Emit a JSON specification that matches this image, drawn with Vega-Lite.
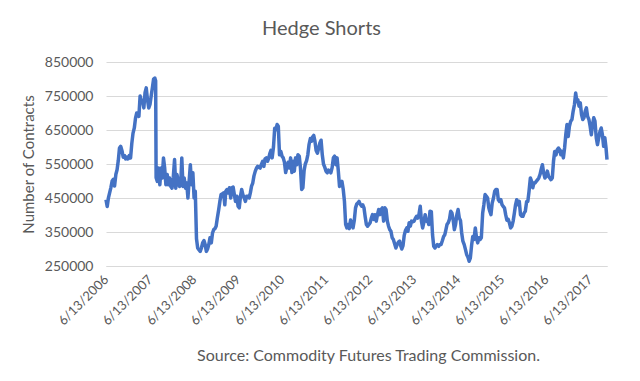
{
  "$schema": "https://vega.github.io/schema/vega-lite/v6.json",
  "width": 501,
  "height": 204,
  "autosize": "none",
  "padding": {"left": 106, "top": 62, "right": 33, "bottom": 115},
  "background": "white",
  "config": {
    "font": "Lato",
    "view": {"stroke": null},
    "axis": {"labelColor": "#595959", "titleColor": "#595959", "labelFont": "Lato", "titleFont": "Lato", "titleFontWeight": "normal"}
  },
  "title": {"text": "Hedge Shorts", "fontSize": 20, "font": "Lato", "fontWeight": "normal", "color": "#595959", "anchor": "middle", "dx": -35, "offset": 16},
  "data": {"values": [
    {"d":"2006-06-13","v":445000},{"d":"2006-06-23","v":425000},{"d":"2006-07-03","v":450000},{"d":"2006-07-13","v":465000},{"d":"2006-07-23","v":480000},{"d":"2006-08-03","v":500000},{"d":"2006-08-13","v":505000},{"d":"2006-08-23","v":485000},{"d":"2006-09-03","v":520000},{"d":"2006-09-13","v":533000},{"d":"2006-09-23","v":560000},{"d":"2006-10-03","v":597000},{"d":"2006-10-13","v":602000},{"d":"2006-10-23","v":590000},{"d":"2006-11-03","v":570000},{"d":"2006-11-13","v":575000},{"d":"2006-11-23","v":565000},{"d":"2006-12-03","v":570000},{"d":"2006-12-13","v":565000},{"d":"2006-12-23","v":575000},
    {"d":"2007-01-03","v":568000},{"d":"2007-01-13","v":610000},{"d":"2007-01-23","v":640000},{"d":"2007-02-03","v":656000},{"d":"2007-02-13","v":685000},{"d":"2007-02-23","v":700000},{"d":"2007-03-03","v":695000},{"d":"2007-03-13","v":690000},{"d":"2007-03-23","v":750000},{"d":"2007-04-03","v":735000},{"d":"2007-04-13","v":734000},{"d":"2007-04-23","v":715000},{"d":"2007-05-03","v":760000},{"d":"2007-05-13","v":774000},{"d":"2007-05-23","v":740000},{"d":"2007-06-03","v":715000},{"d":"2007-06-13","v":725000},{"d":"2007-06-23","v":750000},{"d":"2007-07-03","v":774000},{"d":"2007-07-13","v":800000},{"d":"2007-07-23","v":803000},{"d":"2007-07-30","v":795000},{"d":"2007-08-03","v":510000},{"d":"2007-08-13","v":499000},{"d":"2007-08-23","v":538000},{"d":"2007-09-03","v":489000},{"d":"2007-09-13","v":538000},{"d":"2007-09-23","v":509000},{"d":"2007-10-03","v":568000},{"d":"2007-10-13","v":538000},{"d":"2007-10-23","v":489000},{"d":"2007-11-03","v":519000},{"d":"2007-11-13","v":489000},{"d":"2007-11-23","v":509000},{"d":"2007-12-03","v":484000},{"d":"2007-12-13","v":479000},{"d":"2007-12-23","v":509000},
    {"d":"2008-01-03","v":563000},{"d":"2008-01-13","v":479000},{"d":"2008-01-23","v":519000},{"d":"2008-02-03","v":500000},{"d":"2008-02-13","v":484000},{"d":"2008-02-23","v":489000},{"d":"2008-03-03","v":568000},{"d":"2008-03-13","v":484000},{"d":"2008-03-23","v":509000},{"d":"2008-04-03","v":479000},{"d":"2008-04-13","v":494000},{"d":"2008-04-23","v":450000},{"d":"2008-05-03","v":500000},{"d":"2008-05-13","v":548000},{"d":"2008-05-23","v":489000},{"d":"2008-06-03","v":524000},{"d":"2008-06-13","v":450000},{"d":"2008-06-23","v":470000},{"d":"2008-07-03","v":330000},{"d":"2008-07-13","v":303000},{"d":"2008-07-23","v":298000},{"d":"2008-08-03","v":293000},{"d":"2008-08-13","v":303000},{"d":"2008-08-23","v":318000},{"d":"2008-09-03","v":325000},{"d":"2008-09-13","v":313000},{"d":"2008-09-23","v":293000},{"d":"2008-10-03","v":300000},{"d":"2008-10-13","v":313000},{"d":"2008-10-23","v":333000},{"d":"2008-11-03","v":318000},{"d":"2008-11-13","v":347000},{"d":"2008-11-23","v":357000},{"d":"2008-12-03","v":360000},{"d":"2008-12-13","v":367000},{"d":"2008-12-23","v":391000},
    {"d":"2009-01-03","v":415000},{"d":"2009-01-13","v":440000},{"d":"2009-01-23","v":460000},{"d":"2009-02-03","v":462000},{"d":"2009-02-13","v":465000},{"d":"2009-02-23","v":430000},{"d":"2009-03-03","v":470000},{"d":"2009-03-13","v":475000},{"d":"2009-03-23","v":465000},{"d":"2009-04-03","v":480000},{"d":"2009-04-13","v":450000},{"d":"2009-04-23","v":480000},{"d":"2009-05-03","v":482000},{"d":"2009-05-13","v":460000},{"d":"2009-05-23","v":440000},{"d":"2009-06-03","v":455000},{"d":"2009-06-13","v":426000},{"d":"2009-06-23","v":421000},{"d":"2009-07-03","v":455000},{"d":"2009-07-13","v":475000},{"d":"2009-07-23","v":460000},{"d":"2009-08-03","v":450000},{"d":"2009-08-13","v":440000},{"d":"2009-08-23","v":455000},{"d":"2009-09-03","v":455000},{"d":"2009-09-13","v":450000},{"d":"2009-09-23","v":465000},{"d":"2009-10-03","v":485000},{"d":"2009-10-13","v":494000},{"d":"2009-10-23","v":515000},{"d":"2009-11-03","v":529000},{"d":"2009-11-13","v":538000},{"d":"2009-11-23","v":543000},{"d":"2009-12-03","v":540000},{"d":"2009-12-13","v":538000},{"d":"2009-12-23","v":548000},
    {"d":"2010-01-03","v":558000},{"d":"2010-01-13","v":543000},{"d":"2010-01-23","v":565000},{"d":"2010-02-03","v":568000},{"d":"2010-02-13","v":558000},{"d":"2010-02-23","v":568000},{"d":"2010-03-03","v":580000},{"d":"2010-03-13","v":590000},{"d":"2010-03-23","v":568000},{"d":"2010-04-03","v":600000},{"d":"2010-04-13","v":655000},{"d":"2010-04-23","v":651000},{"d":"2010-05-03","v":666000},{"d":"2010-05-13","v":661000},{"d":"2010-05-23","v":577000},{"d":"2010-06-03","v":587000},{"d":"2010-06-13","v":573000},{"d":"2010-06-23","v":568000},{"d":"2010-07-03","v":555000},{"d":"2010-07-13","v":525000},{"d":"2010-07-23","v":540000},{"d":"2010-08-03","v":555000},{"d":"2010-08-13","v":538000},{"d":"2010-08-23","v":568000},{"d":"2010-09-03","v":525000},{"d":"2010-09-13","v":558000},{"d":"2010-09-23","v":529000},{"d":"2010-10-03","v":568000},{"d":"2010-10-13","v":548000},{"d":"2010-10-23","v":577000},{"d":"2010-11-03","v":573000},{"d":"2010-11-13","v":538000},{"d":"2010-11-23","v":475000},{"d":"2010-12-03","v":480000},{"d":"2010-12-13","v":530000},{"d":"2010-12-23","v":550000},
    {"d":"2011-01-03","v":560000},{"d":"2011-01-13","v":577000},{"d":"2011-01-23","v":607000},{"d":"2011-02-03","v":625000},{"d":"2011-02-13","v":617000},{"d":"2011-02-23","v":630000},{"d":"2011-03-03","v":634000},{"d":"2011-03-13","v":617000},{"d":"2011-03-23","v":590000},{"d":"2011-04-03","v":582000},{"d":"2011-04-13","v":597000},{"d":"2011-04-23","v":612000},{"d":"2011-05-03","v":620000},{"d":"2011-05-13","v":577000},{"d":"2011-05-23","v":550000},{"d":"2011-06-03","v":540000},{"d":"2011-06-13","v":529000},{"d":"2011-06-23","v":524000},{"d":"2011-07-03","v":532000},{"d":"2011-07-13","v":529000},{"d":"2011-07-23","v":524000},{"d":"2011-08-03","v":540000},{"d":"2011-08-13","v":568000},{"d":"2011-08-23","v":573000},{"d":"2011-09-03","v":548000},{"d":"2011-09-13","v":568000},{"d":"2011-09-23","v":530000},{"d":"2011-10-03","v":484000},{"d":"2011-10-13","v":494000},{"d":"2011-10-23","v":499000},{"d":"2011-11-03","v":475000},{"d":"2011-11-13","v":440000},{"d":"2011-11-23","v":372000},{"d":"2011-12-03","v":362000},{"d":"2011-12-13","v":372000},{"d":"2011-12-23","v":360000},
    {"d":"2012-01-03","v":385000},{"d":"2012-01-13","v":377000},{"d":"2012-01-23","v":362000},{"d":"2012-02-03","v":385000},{"d":"2012-02-13","v":421000},{"d":"2012-02-23","v":432000},{"d":"2012-03-03","v":435000},{"d":"2012-03-13","v":440000},{"d":"2012-03-23","v":432000},{"d":"2012-04-03","v":426000},{"d":"2012-04-13","v":430000},{"d":"2012-04-23","v":421000},{"d":"2012-05-03","v":395000},{"d":"2012-05-13","v":372000},{"d":"2012-05-23","v":367000},{"d":"2012-06-03","v":372000},{"d":"2012-06-13","v":377000},{"d":"2012-06-23","v":391000},{"d":"2012-07-03","v":401000},{"d":"2012-07-13","v":387000},{"d":"2012-07-23","v":401000},{"d":"2012-08-03","v":382000},{"d":"2012-08-13","v":401000},{"d":"2012-08-23","v":416000},{"d":"2012-09-03","v":401000},{"d":"2012-09-13","v":416000},{"d":"2012-09-23","v":421000},{"d":"2012-10-03","v":382000},{"d":"2012-10-13","v":421000},{"d":"2012-10-23","v":416000},{"d":"2012-11-03","v":382000},{"d":"2012-11-13","v":367000},{"d":"2012-11-23","v":357000},{"d":"2012-12-03","v":352000},{"d":"2012-12-13","v":333000},{"d":"2012-12-23","v":328000},
    {"d":"2013-01-03","v":315000},{"d":"2013-01-13","v":303000},{"d":"2013-01-23","v":313000},{"d":"2013-02-03","v":320000},{"d":"2013-02-13","v":323000},{"d":"2013-02-23","v":308000},{"d":"2013-03-03","v":300000},{"d":"2013-03-13","v":310000},{"d":"2013-03-23","v":340000},{"d":"2013-04-03","v":355000},{"d":"2013-04-13","v":362000},{"d":"2013-04-23","v":352000},{"d":"2013-05-03","v":377000},{"d":"2013-05-13","v":367000},{"d":"2013-05-23","v":382000},{"d":"2013-06-03","v":380000},{"d":"2013-06-13","v":382000},{"d":"2013-06-23","v":390000},{"d":"2013-07-03","v":396000},{"d":"2013-07-13","v":391000},{"d":"2013-07-23","v":401000},{"d":"2013-08-03","v":426000},{"d":"2013-08-13","v":382000},{"d":"2013-08-23","v":362000},{"d":"2013-09-03","v":380000},{"d":"2013-09-13","v":401000},{"d":"2013-09-23","v":382000},{"d":"2013-10-03","v":385000},{"d":"2013-10-13","v":372000},{"d":"2013-10-23","v":411000},{"d":"2013-11-03","v":410000},{"d":"2013-11-13","v":342000},{"d":"2013-11-23","v":308000},{"d":"2013-12-03","v":303000},{"d":"2013-12-13","v":308000},{"d":"2013-12-23","v":313000},
    {"d":"2014-01-03","v":308000},{"d":"2014-01-13","v":313000},{"d":"2014-01-23","v":313000},{"d":"2014-02-03","v":325000},{"d":"2014-02-13","v":337000},{"d":"2014-02-23","v":342000},{"d":"2014-03-03","v":355000},{"d":"2014-03-13","v":372000},{"d":"2014-03-23","v":377000},{"d":"2014-04-03","v":388000},{"d":"2014-04-13","v":411000},{"d":"2014-04-23","v":406000},{"d":"2014-05-03","v":387000},{"d":"2014-05-13","v":357000},{"d":"2014-05-23","v":372000},{"d":"2014-06-03","v":401000},{"d":"2014-06-13","v":416000},{"d":"2014-06-23","v":391000},{"d":"2014-07-03","v":384000},{"d":"2014-07-13","v":347000},{"d":"2014-07-23","v":323000},{"d":"2014-08-03","v":313000},{"d":"2014-08-13","v":299000},{"d":"2014-08-23","v":284000},{"d":"2014-09-03","v":276000},{"d":"2014-09-13","v":264000},{"d":"2014-09-23","v":274000},{"d":"2014-10-03","v":310000},{"d":"2014-10-13","v":337000},{"d":"2014-10-23","v":328000},{"d":"2014-11-03","v":362000},{"d":"2014-11-13","v":333000},{"d":"2014-11-23","v":318000},{"d":"2014-12-03","v":333000},{"d":"2014-12-13","v":328000},{"d":"2014-12-23","v":333000},
    {"d":"2015-01-03","v":405000},{"d":"2015-01-13","v":430000},{"d":"2015-01-23","v":460000},{"d":"2015-02-03","v":455000},{"d":"2015-02-13","v":450000},{"d":"2015-02-23","v":421000},{"d":"2015-03-03","v":411000},{"d":"2015-03-13","v":401000},{"d":"2015-03-23","v":435000},{"d":"2015-04-03","v":450000},{"d":"2015-04-13","v":470000},{"d":"2015-04-23","v":475000},{"d":"2015-05-03","v":475000},{"d":"2015-05-13","v":445000},{"d":"2015-05-23","v":440000},{"d":"2015-06-03","v":445000},{"d":"2015-06-13","v":430000},{"d":"2015-06-23","v":425000},{"d":"2015-07-03","v":421000},{"d":"2015-07-13","v":401000},{"d":"2015-07-23","v":385000},{"d":"2015-08-03","v":387000},{"d":"2015-08-13","v":377000},{"d":"2015-08-23","v":362000},{"d":"2015-09-03","v":367000},{"d":"2015-09-13","v":382000},{"d":"2015-09-23","v":405000},{"d":"2015-10-03","v":430000},{"d":"2015-10-13","v":445000},{"d":"2015-10-23","v":430000},{"d":"2015-11-03","v":440000},{"d":"2015-11-13","v":401000},{"d":"2015-11-23","v":396000},{"d":"2015-12-03","v":396000},{"d":"2015-12-13","v":406000},{"d":"2015-12-23","v":411000},
    {"d":"2016-01-03","v":440000},{"d":"2016-01-13","v":440000},{"d":"2016-01-23","v":470000},{"d":"2016-02-03","v":509000},{"d":"2016-02-13","v":499000},{"d":"2016-02-23","v":480000},{"d":"2016-03-03","v":494000},{"d":"2016-03-13","v":494000},{"d":"2016-03-23","v":499000},{"d":"2016-04-03","v":504000},{"d":"2016-04-13","v":509000},{"d":"2016-04-23","v":519000},{"d":"2016-05-03","v":535000},{"d":"2016-05-13","v":548000},{"d":"2016-05-23","v":524000},{"d":"2016-06-03","v":509000},{"d":"2016-06-13","v":514000},{"d":"2016-06-23","v":529000},{"d":"2016-07-03","v":514000},{"d":"2016-07-13","v":509000},{"d":"2016-07-23","v":504000},{"d":"2016-08-03","v":509000},{"d":"2016-08-13","v":558000},{"d":"2016-08-23","v":587000},{"d":"2016-09-03","v":577000},{"d":"2016-09-13","v":592000},{"d":"2016-09-23","v":597000},{"d":"2016-10-03","v":592000},{"d":"2016-10-13","v":577000},{"d":"2016-10-23","v":587000},{"d":"2016-11-03","v":568000},{"d":"2016-11-13","v":597000},{"d":"2016-11-23","v":636000},{"d":"2016-12-03","v":666000},{"d":"2016-12-13","v":631000},{"d":"2016-12-23","v":661000},
    {"d":"2017-01-03","v":676000},{"d":"2017-01-13","v":681000},{"d":"2017-01-23","v":705000},{"d":"2017-02-03","v":725000},{"d":"2017-02-13","v":759000},{"d":"2017-02-23","v":734000},{"d":"2017-03-03","v":739000},{"d":"2017-03-13","v":720000},{"d":"2017-03-23","v":730000},{"d":"2017-04-03","v":695000},{"d":"2017-04-13","v":681000},{"d":"2017-04-23","v":686000},{"d":"2017-05-03","v":705000},{"d":"2017-05-13","v":715000},{"d":"2017-05-23","v":690000},{"d":"2017-06-03","v":681000},{"d":"2017-06-13","v":661000},{"d":"2017-06-23","v":636000},{"d":"2017-07-03","v":666000},{"d":"2017-07-13","v":686000},{"d":"2017-07-23","v":676000},{"d":"2017-08-03","v":627000},{"d":"2017-08-13","v":607000},{"d":"2017-08-23","v":627000},{"d":"2017-09-03","v":646000},{"d":"2017-09-13","v":656000},{"d":"2017-09-23","v":636000},{"d":"2017-10-03","v":602000},{"d":"2017-10-13","v":627000},{"d":"2017-10-23","v":597000},{"d":"2017-10-31","v":563000}
  ]},
  "mark": {"type": "line", "color": "#4472C4", "strokeWidth": 3.5, "strokeJoin": "round"},
  "encoding": {
    "x": {
      "field": "d", "type": "temporal",
      "scale": {"type": "utc", "domain": [{"year": 2006, "month": 6, "date": 13, "utc": true}, {"year": 2017, "month": 10, "date": 31, "utc": true}], "nice": false},
      "axis": {
        "title": "Source: Commodity Futures Trading Commission.",
        "titleFontSize": 16, "titlePadding": 20, "titleX": 262,
        "values": [
          {"year": 2006, "month": 6, "date": 13, "utc": true},
          {"year": 2007, "month": 6, "date": 13, "utc": true},
          {"year": 2008, "month": 6, "date": 13, "utc": true},
          {"year": 2009, "month": 6, "date": 13, "utc": true},
          {"year": 2010, "month": 6, "date": 13, "utc": true},
          {"year": 2011, "month": 6, "date": 13, "utc": true},
          {"year": 2012, "month": 6, "date": 13, "utc": true},
          {"year": 2013, "month": 6, "date": 13, "utc": true},
          {"year": 2014, "month": 6, "date": 13, "utc": true},
          {"year": 2015, "month": 6, "date": 13, "utc": true},
          {"year": 2016, "month": 6, "date": 13, "utc": true},
          {"year": 2017, "month": 6, "date": 13, "utc": true}
        ],
        "labelExpr": "utcFormat(datum.value, '%-m/%-d/%Y')",
        "labelAngle": -45, "labelAlign": "right", "labelBaseline": "middle",
        "labelFontSize": 13, "labelPadding": 11, "labelOverlap": false, "labelBound": false,
        "grid": false, "ticks": false, "domainColor": "#d9d9d9", "domainWidth": 1
      }
    },
    "y": {
      "field": "v", "type": "quantitative",
      "scale": {"domain": [250000, 850000], "nice": false, "zero": false},
      "axis": {
        "title": "Number of Contracts", "titleFontSize": 15, "titlePadding": 8,
        "values": [250000, 350000, 450000, 550000, 650000, 750000, 850000],
        "format": "d", "labelFontSize": 14, "labelPadding": 13,
        "ticks": false, "tickSize": 0, "domain": false,
        "grid": true, "gridColor": "#d9d9d9", "gridWidth": 1
      }
    }
  }
}
